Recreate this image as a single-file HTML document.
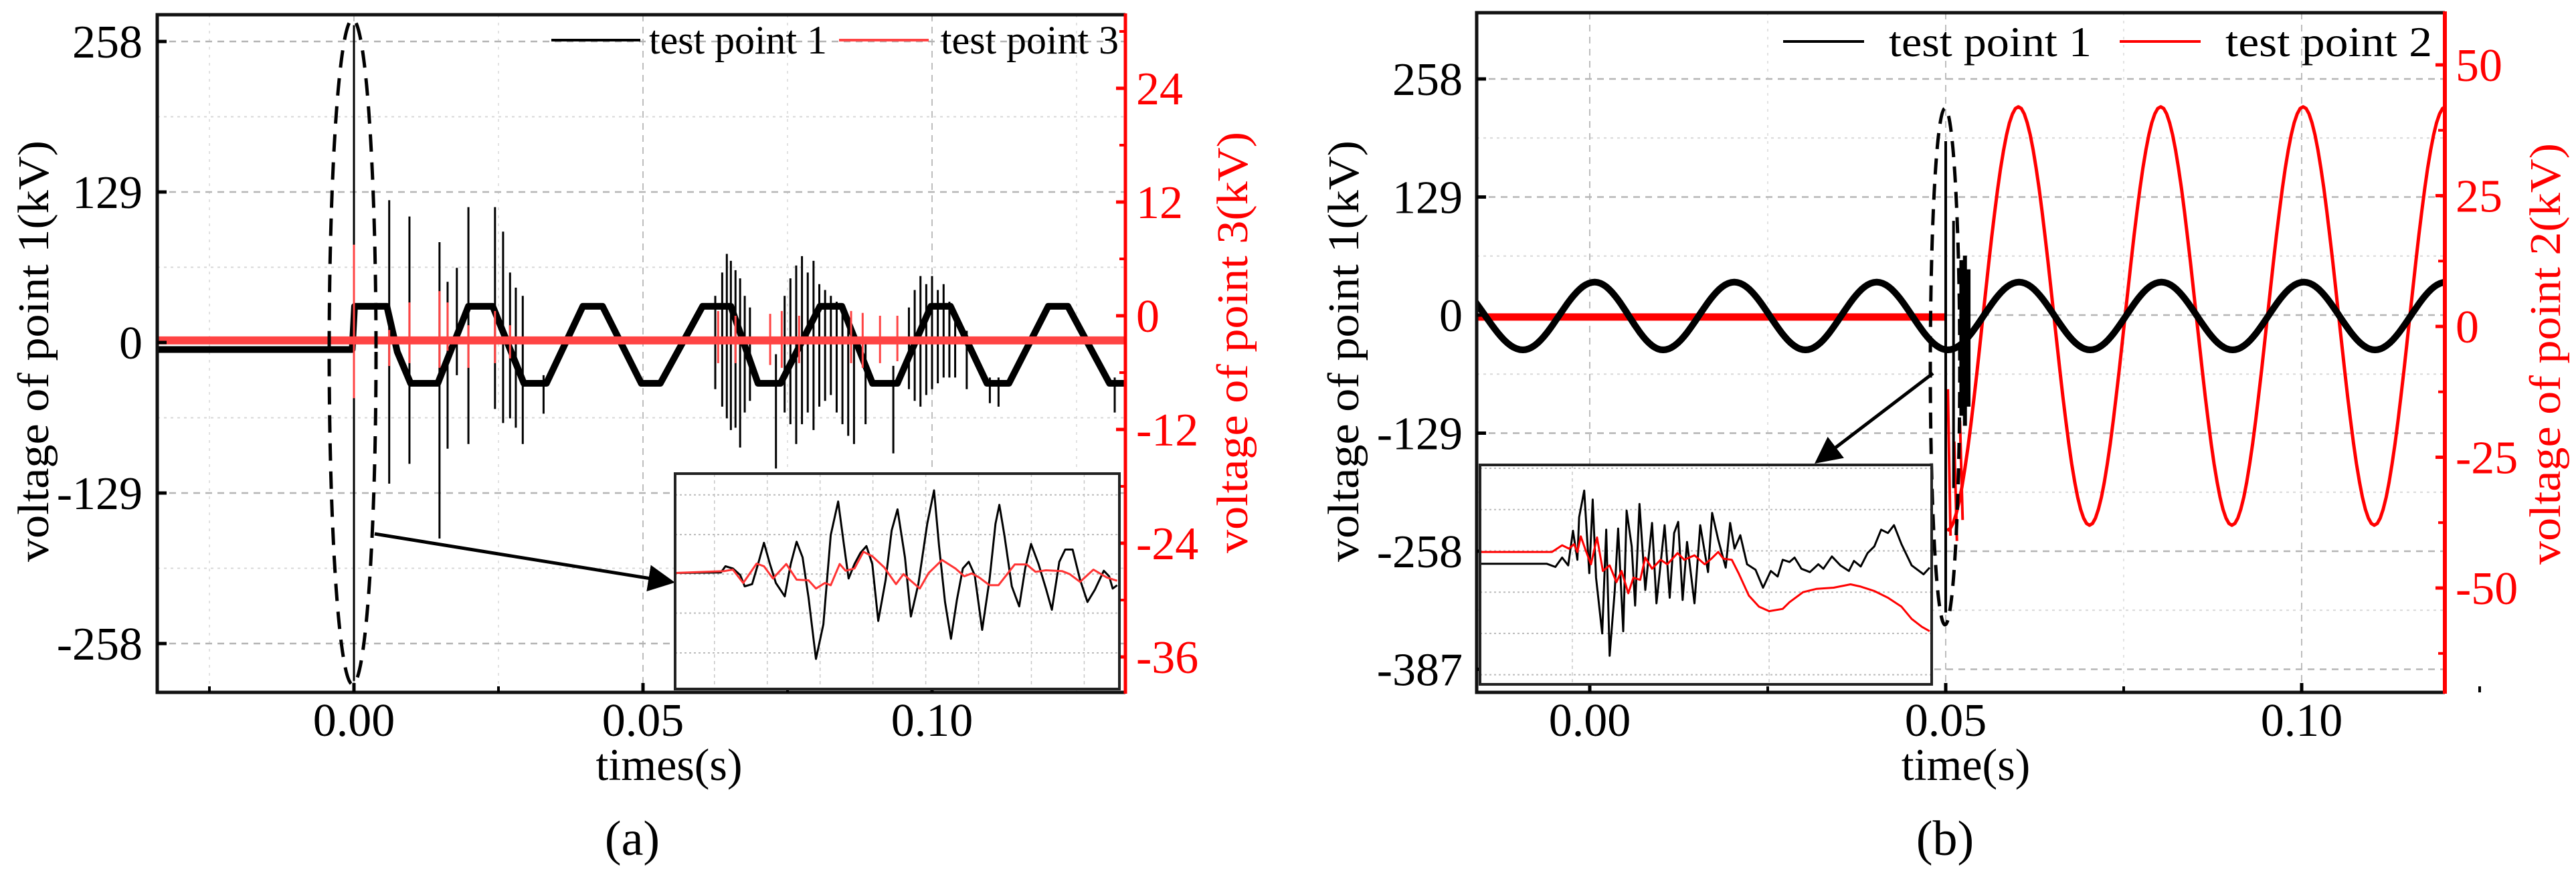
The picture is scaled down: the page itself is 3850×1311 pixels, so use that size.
<!DOCTYPE html>
<html><head><meta charset="utf-8"><title>Voltage waveforms</title>
<style>
html,body{margin:0;padding:0;background:#fff;}
svg, svg text{font-family:"Liberation Serif","DejaVu Serif",serif;}
</style></head>
<body>
<svg id="fig" width="3850" height="1306" viewBox="0 0 3850 1306" xmlns="http://www.w3.org/2000/svg" font-family="Liberation Serif, DejaVu Serif, serif">
<defs>
<clipPath id="clipA"><rect x="235" y="22" width="1447" height="1013"/></clipPath>
<clipPath id="clipB"><rect x="2207" y="19" width="1447" height="1016"/></clipPath>
<clipPath id="clipIA"><rect x="1009" y="708" width="664" height="322"/></clipPath>
<clipPath id="clipIB"><rect x="2212" y="695" width="675" height="328"/></clipPath>
<marker id="arrowHead" markerWidth="8" markerHeight="8" refX="7" refY="4" orient="auto" markerUnits="strokeWidth"><path d="M0,0 L8,4 L0,8 Z" fill="#000"/></marker>
</defs>
<g id="panelA" font-family="Liberation Serif, serif"></g>
<g id="panelB" font-family="Liberation Serif, serif"></g>
</svg>
<script>
// ---------- Panel (a) data ----------
const aXTicks = [0.00, 0.05, 0.10];
const aXTickLabels = ["0.00", "0.05", "0.10"];
const aLeftTicks = [258, 129, 0, -129, -258];
const aRightTicks = [24, 12, 0, -12, -24, -36];
const aBlackT = [-0.0343,-0.0003,0.0001,0.0057,0.0075,0.0098,0.0145,0.0198,0.024,0.0294,0.0333,0.0396,0.043,0.0497,0.053,0.0603,0.0652,0.0699,0.0738,0.0806,0.0844,0.0897,0.094,0.0998,0.1032,0.1095,0.1133,0.1201,0.1235,0.1307,0.1334];
const aBlackV = [-6,-6,31,31,-8,-35,-35,31,31,-35,-35,31,31,-35,-35,31,31,-35,-35,31,31,-35,-35,31,31,-35,-35,31,31,-35,-35];
const aSpikeT  = [0.0,0.0061,0.0096,0.0148,0.0162,0.0178,0.0198,0.0244,0.0258,0.027,0.028,0.0292,0.0328,0.0625,0.0637,0.0645,0.0652,0.0660,0.0668,0.0676,0.0685,0.073,0.0745,0.0755,0.0765,0.0775,0.0785,0.0795,0.0805,0.0815,0.0825,0.0835,0.0845,0.0855,0.0865,0.0885,0.0933,0.096,0.097,0.098,0.099,0.100,0.101,0.102,0.103,0.104,0.106,0.110,0.1115,0.1316];
const aSpikeHi = [272,122,108,86,52,64,116,116,95,60,47,40,-28,40,60,76,70,62,55,40,30,-10,40,55,66,74,60,70,50,45,40,35,30,20,10,0,-20,30,45,57,50,57,45,50,35,25,10,-30,-30,-30];
const aSpikeLo = [-290,-121,-104,-168,-91,-28,-87,-57,-69,-65,-73,-87,-61,-40,-55,-65,-75,-73,-90,-60,-50,-108,-60,-70,-87,-70,-60,-75,-55,-50,-45,-60,-70,-80,-87,-70,-95,-40,-50,-55,-45,-40,-35,-30,-30,-30,-40,-52,-55,-60];
const aRedLevel = -2.6;
const aRedSpikeT  = [0.0,0.0061,0.0096,0.0148,0.0162,0.0198,0.0244,0.027,0.063,0.066,0.072,0.074,0.077,0.086,0.088,0.091,0.094];
const aRedSpikeHi = [7.5,-1.5,1.4,2.6,1.4,-1,0.5,-1,0.5,0,0.2,0.5,0,0.5,0.3,0,0];
const aRedSpikeLo = [-8.7,-5.3,-5,-5.5,-3.7,-5.5,-5,-4.5,-5,-5,-5.2,-5.5,-5,-5,-5.5,-5,-4.8];
const iaBlackT = [0,150,165,190,215,230,255,275,295,315,335,365,385,405,425,445,470,495,520,545,565,580,600,620,640,660,680,705,725,745,770,790,815,845,868,885,905,925,945,965,985,1005,1030,1055,1075,1088,1105,1130,1155,1175,1195,1220,1245,1265,1290,1310,1335,1360,1385,1410,1440,1458,1470,1485];
const iaBlackV = [0,2,30,20,-10,-60,-50,40,135,40,-45,-105,40,140,70,-110,-385,-230,170,320,120,-25,40,90,120,40,-215,-30,190,285,70,-195,-50,220,370,120,-130,-295,-120,20,50,-10,-255,-30,220,305,170,-60,-150,20,130,40,-70,-165,50,105,105,-30,-130,-75,10,-15,-70,-55];
const iaRedT = [0,160,190,225,270,295,325,370,405,445,470,500,520,550,570,600,630,660,700,740,765,790,820,850,895,940,970,995,1020,1055,1085,1140,1180,1210,1245,1300,1325,1360,1405,1450,1485];
const iaRedV = [0,8,15,-45,42,30,-25,40,-30,-33,-70,-45,-55,40,10,20,95,75,25,-50,-5,-35,-70,0,58,20,-15,-2,-20,-55,-55,38,38,5,12,8,-5,-40,15,-20,-35];
// ---------- Panel (b) data ----------
const bXTicks = [0.00, 0.05, 0.10];
const bXTickLabels = ["0.00", "0.05", "0.10"];
const bLeftTicks = [258, 129, 0, -129, -258, -387];
const bRightTicks = [50, 25, 0, -25, -50];
const bBlackT = [-0.02,-0.0094,0.0007,0.0103,0.0203,0.0303,0.0403,0.0503,0.0603,0.0703,0.0803,0.0903,0.1003,0.1103,0.1203,0.1303];
const bBlackV = [37,-38,36,-38,36,-38,36,-38,36,-38,36,-38,36,-38,36,-38];
const bSpikeT  = [0.05,0.0511,0.0522,0.0527,0.0532];
const bSpikeHi = [190,103,60,65,50];
const bSpikeLo = [-325,-189,-110,-121,-100];
const bRedPreT = [-0.0161, 0.0499];
const bRedPreV = [1.8, 1.8];
const bRedT = [0.0502,0.0602,0.0702,0.0802,0.0902,0.1002,0.1102,0.1202];
const bRedV = [-39,42,-38,42,-38,42,-38,42];
const bRedSpikeT  = [0.0503,0.0512,0.052];
const bRedSpikeHi = [-12,-22,-18];
const bRedSpikeLo = [-40,-41,-37];
const ibBlackT = [0,193,218,238,256,270,283,288,303,318,328,338,356,368,378,393,403,418,428,443,453,466,483,503,516,540,555,568,580,593,606,628,645,668,680,698,720,733,746,763,783,808,830,853,873,888,908,923,943,968,993,1008,1033,1058,1083,1098,1118,1138,1158,1178,1198,1216,1238,1268,1303,1321];
const ibBlackV = [2,2,-12,30,-5,150,20,210,330,-40,290,-60,-310,155,-410,-120,160,-300,240,80,-185,270,-115,185,-175,175,-150,140,190,-160,100,-175,175,-35,230,110,-15,185,70,130,0,-25,-105,-30,-55,20,10,30,-20,-35,0,-20,35,-5,-30,15,-10,50,80,155,140,175,90,-5,-45,-15];
const ibRedT = [0,208,238,258,273,283,293,308,323,341,358,378,398,413,433,448,468,483,503,528,548,578,598,628,658,678,698,713,738,758,788,818,848,888,908,948,988,1038,1088,1118,1158,1198,1238,1268,1298,1321];
const ibRedV = [55,55,85,70,90,55,125,60,0,120,-30,-5,-80,-30,-130,-60,-70,30,-20,20,0,50,20,40,0,25,55,25,20,-40,-140,-190,-210,-200,-170,-125,-110,-105,-90,-100,-120,-150,-190,-245,-280,-300];

const NS = 'http://www.w3.org/2000/svg';
function mk(tag, attrs, parent) {
  const el = document.createElementNS(NS, tag);
  for (const k in attrs) el.setAttribute(k, attrs[k]);
  parent.appendChild(el);
  return el;
}
function txt(str, attrs, parent) {
  const el = mk('text', attrs, parent);
  el.textContent = str;
  return el;
}
function linPath(T, V, fx, fy) {
  let d = '';
  for (let i = 0; i < T.length; i++) d += (i ? 'L' : 'M') + fx(T[i]).toFixed(1) + ',' + fy(V[i]).toFixed(1);
  return d;
}
function cosPath(T, V, fx, fy) {
  let d = 'M' + fx(T[0]).toFixed(1) + ',' + fy(V[0]).toFixed(1);
  for (let i = 0; i < T.length - 1; i++) {
    for (let s = 1; s <= 24; s++) {
      const f = s / 24, w = (1 - Math.cos(Math.PI * f)) / 2;
      const t = T[i] + (T[i + 1] - T[i]) * f, v = V[i] + (V[i + 1] - V[i]) * w;
      d += 'L' + fx(t).toFixed(1) + ',' + fy(v).toFixed(1);
    }
  }
  return d;
}

(function () {
  const g = document.getElementById('panelA');
  const L = 235, R = 1682, T = 22, B = 1035;
  const xA = t => 529 + t * 8640;
  const yL = v => 512 - v * (225 / 129);
  const yR = v => 472 - v * (170 / 12);

  const grid = mk('g', {}, g);
  
  
  [-0.025, 0.025, 0.075, 0.125].forEach(t => {
    const ln = mk('line', {x1: xA(t), x2: xA(t), y1: T, y2: B, stroke: '#e2e2e2', 'stroke-width': 2, 'stroke-dasharray': '4 8'}, grid);
    
  });
  aXTicks.forEach(t => {
    const ln = mk('line', {x1: xA(t), x2: xA(t), y1: T, y2: B, stroke: '#bdbdbd', 'stroke-width': 2, 'stroke-dasharray': '10 8'}, grid);
    
  });
  [193.5, 64.5, -64.5, -193.5].forEach(v => {
    const ln = mk('line', {x1: L, x2: R, y1: yL(v), y2: yL(v), stroke: '#d8d8d8', 'stroke-width': 2, 'stroke-dasharray': '4 6'}, grid);
    
  });
  aLeftTicks.forEach(v => {
    const ln = mk('line', {x1: L, x2: R, y1: yL(v), y2: yL(v), stroke: '#b5b5b5', 'stroke-width': 2.5, 'stroke-dasharray': '10 8'}, grid);
    
  });

  const plot = mk('g', {'clip-path': 'url(#clipA)'}, g);
  
  
  const spikes = mk('g', {stroke: '#000', 'stroke-width': 3}, plot);
  
  aSpikeT.forEach((t, i) => {
    const s = mk('line', {x1: xA(t), x2: xA(t), y1: yL(aSpikeHi[i]), y2: yL(aSpikeLo[i])}, spikes);
    
  });
  const black = mk('path', {d: linPath(aBlackT, aBlackV, xA, yL), fill: 'none', stroke: '#000', 'stroke-width': 10, 'stroke-linejoin': 'round'}, plot);
  
  
  const red = mk('line', {x1: L, x2: R, y1: yR(aRedLevel), y2: yR(aRedLevel), stroke: '#f44', 'stroke-width': 12}, plot);
  
  
  const rsp = mk('g', {stroke: '#f44', 'stroke-width': 3}, plot);
  
  aRedSpikeT.forEach((t, i) => {
    const s = mk('line', {x1: xA(t), x2: xA(t), y1: yR(aRedSpikeHi[i]), y2: yR(aRedSpikeLo[i])}, rsp);
    
  });

  const fr = mk('g', {}, g);
  
  mk('path', {d: `M${R},${T} L${L},${T} L${L},${B} L${R},${B}`, fill: 'none', stroke: '#111', 'stroke-width': 5}, fr);
  const rs = mk('line', {x1: R, x2: R, y1: T - 2, y2: B + 2, stroke: '#f00', 'stroke-width': 5}, fr);
  

  const lt = mk('g', {'font-size': 70, 'text-anchor': 'end', fill: '#000'}, g);
  
  aLeftTicks.forEach(v => {
    mk('line', {x1: L, x2: L + 14, y1: yL(v), y2: yL(v), stroke: '#000', 'stroke-width': 5}, lt);
    const t = txt(String(v), {x: 213, y: yL(v) + 24}, lt);
    
  });
  const rt = mk('g', {'font-size': 70, fill: '#f00'}, g);
  
  aRightTicks.forEach(v => {
    mk('line', {x1: R - 14, x2: R, y1: yR(v), y2: yR(v), stroke: '#f00', 'stroke-width': 5}, rt);
    mk('line', {x1: R - 9, x2: R, y1: yR(v + 6), y2: yR(v + 6), stroke: '#f00', 'stroke-width': 4}, rt);
    const t = txt(String(v), {x: 1698, y: yR(v) + 24}, rt);
    
  });
  const xt = mk('g', {'font-size': 70, 'text-anchor': 'middle'}, g);
  
  aXTicks.forEach((v, i) => {
    mk('line', {x1: xA(v), x2: xA(v), y1: B, y2: B - 14, stroke: '#000', 'stroke-width': 5}, xt);
    mk('line', {x1: xA(v - 0.025), x2: xA(v - 0.025), y1: B, y2: B - 9, stroke: '#000', 'stroke-width': 4}, xt);
    const t = txt(aXTickLabels[i], {x: xA(v), y: 1100}, xt);
    
  });

  const xl = txt('times(s)', {x: 1000, y: 1166, 'font-size': 68, 'text-anchor': 'middle'}, g);
  
  const yl = txt('voltage of point 1(kV)', {x: 0, y: 0, 'font-size': 66, 'text-anchor': 'middle', textLength: 630, lengthAdjust: 'spacingAndGlyphs', transform: 'translate(72,525) rotate(-90)'}, g);
  
  const yr = txt('voltage of point 3(kV)', {x: 0, y: 0, 'font-size': 66, 'text-anchor': 'middle', fill: '#f00', textLength: 630, lengthAdjust: 'spacingAndGlyphs', transform: 'translate(1864,512) rotate(-90)'}, g);
  
  const cap = txt('(a)', {x: 945, y: 1278, 'font-size': 74, 'text-anchor': 'middle'}, g);
  

  const lg = mk('g', {'font-size': 60}, g);
  
  const le1 = mk('g', {}, lg);
  
  mk('line', {x1: 824, x2: 957, y1: 60, y2: 60, stroke: '#000', 'stroke-width': 4}, le1);
  txt('test point 1', {x: 970, y: 80, textLength: 266, lengthAdjust: 'spacingAndGlyphs'}, le1);
  const le2 = mk('g', {}, lg);
  
  mk('line', {x1: 1254, x2: 1388, y1: 60, y2: 60, stroke: '#f44', 'stroke-width': 4}, le2);
  txt('test point 3', {x: 1406, y: 80, textLength: 266, lengthAdjust: 'spacingAndGlyphs'}, le2);

  const el = mk('ellipse', {cx: 527, cy: 526, rx: 35, ry: 497, fill: 'none', stroke: '#000', 'stroke-width': 5, 'stroke-dasharray': '26 16'}, g);
  
  const ar = mk('line', {x1: 560, y1: 798, x2: 1004, y2: 870, stroke: '#000', 'stroke-width': 5, 'marker-end': 'url(#arrowHead)'}, g);
  

  const IL = 1009, IR = 1673, IT = 708, IB = 1030;
  const ix = u => IL + 2 + u / 1488 * (IR - IL - 4);
  const iy = v => IT + (445 - v) * (IB - IT) / 965;
  const ins = mk('g', {}, g);
  
  
  mk('rect', {x: IL, y: IT, width: IR - IL, height: IB - IT, fill: '#fff'}, ins);
  for (let k = 1; k <= 8; k++) {
    const u = 20 + k * 178 - 70;
    mk('line', {x1: ix(u), x2: ix(u), y1: IT, y2: IB, stroke: '#c8c8c8', 'stroke-width': 1.5, 'stroke-dasharray': '5 5'}, ins);
  }
  [350, 172, -5, -180, -358].forEach(v => mk('line', {x1: IL, x2: IR, y1: iy(v), y2: iy(v), stroke: '#bbb', 'stroke-width': 2, 'stroke-dasharray': '3 4'}, ins));
  const ic = mk('g', {'clip-path': 'url(#clipIA)'}, ins);
  const ib = mk('path', {d: linPath(iaBlackT, iaBlackV, ix, iy), fill: 'none', stroke: '#000', 'stroke-width': 3, 'stroke-linejoin': 'round'}, ic);
  
  const ir = mk('path', {d: linPath(iaRedT, iaRedV, ix, iy), fill: 'none', stroke: '#f33', 'stroke-width': 3, 'stroke-linejoin': 'round'}, ic);
  
  mk('rect', {x: IL, y: IT, width: IR - IL, height: IB - IT, fill: 'none', stroke: '#222', 'stroke-width': 4}, ins);
})();

(function () {
  const g = document.getElementById('panelB');
  const L = 2207, R = 3654, T = 19, B = 1035;
  const xB = t => 2376 + t * 10640;
  const yL = v => 471 - v * (176.5 / 129);
  const yR = v => 488 - v * (195.5 / 25);

  const grid = mk('g', {}, g);
  
  
  [0.025, 0.075].forEach(t => {
    const ln = mk('line', {x1: xB(t), x2: xB(t), y1: T, y2: B, stroke: '#e2e2e2', 'stroke-width': 2, 'stroke-dasharray': '4 8'}, grid);
    
  });
  bXTicks.forEach(t => {
    const ln = mk('line', {x1: xB(t), x2: xB(t), y1: T, y2: B, stroke: '#bdbdbd', 'stroke-width': 2, 'stroke-dasharray': '10 8'}, grid);
    
  });
  [193.5, 64.5, -64.5, -193.5, -322.5].forEach(v => {
    const ln = mk('line', {x1: L, x2: R, y1: yL(v), y2: yL(v), stroke: '#d8d8d8', 'stroke-width': 2, 'stroke-dasharray': '4 6'}, grid);
    
  });
  bLeftTicks.forEach(v => {
    const ln = mk('line', {x1: L, x2: R, y1: yL(v), y2: yL(v), stroke: '#b5b5b5', 'stroke-width': 2.5, 'stroke-dasharray': '10 8'}, grid);
    
  });

  const plot = mk('g', {'clip-path': 'url(#clipB)'}, g);
  
  
  const redPre = mk('path', {d: linPath(bRedPreT, bRedPreV, xB, yR), fill: 'none', stroke: '#f00', 'stroke-width': 11}, plot);
  
  const red = mk('path', {d: cosPath(bRedT, bRedV, xB, yR), fill: 'none', stroke: '#f00', 'stroke-width': 5, 'stroke-linejoin': 'round'}, plot);
  
  
  bRedSpikeT.forEach((t, i) => {
    const s = mk('line', {x1: xB(t), x2: xB(t) + 4, y1: yR(bRedSpikeHi[i]), y2: yR(bRedSpikeLo[i]), stroke: '#f00', 'stroke-width': 4}, plot);
    
  });
  const black = mk('path', {d: cosPath(bBlackT, bBlackV, xB, yL), fill: 'none', stroke: '#000', 'stroke-width': 10, 'stroke-linejoin': 'round'}, plot);
  
  
  bSpikeT.forEach((t, i) => {
    const s = mk('line', {x1: xB(t), x2: xB(t), y1: yL(bSpikeHi[i]), y2: yL(bSpikeLo[i]), stroke: '#000', 'stroke-width': i > 1 ? 6 : 4}, plot);
    
  });

  const fr = mk('g', {}, g);
  
  mk('path', {d: `M${R},${T} L${L},${T} L${L},${B} L${R},${B}`, fill: 'none', stroke: '#111', 'stroke-width': 5}, fr);
  const rs = mk('line', {x1: R, x2: R, y1: T - 2, y2: B + 2, stroke: '#f00', 'stroke-width': 6}, fr);
  

  const lt = mk('g', {'font-size': 70, 'text-anchor': 'end'}, g);
  
  bLeftTicks.forEach(v => {
    mk('line', {x1: L, x2: L + 14, y1: yL(v), y2: yL(v), stroke: '#000', 'stroke-width': 5}, lt);
    const t = txt(String(v), {x: 2186, y: yL(v) + 24}, lt);
    
  });
  const rt = mk('g', {'font-size': 70, fill: '#f00'}, g);
  
  bRightTicks.forEach(v => {
    mk('line', {x1: R - 14, x2: R, y1: yR(v), y2: yR(v), stroke: '#f00', 'stroke-width': 5}, rt);
    mk('line', {x1: R - 10, x2: R, y1: yR(v - 12.5), y2: yR(v - 12.5), stroke: '#f00', 'stroke-width': 4}, rt);
    const t = txt(String(v), {x: 3670, y: yR(v) + 24}, rt);
    
  });
  const xt = mk('g', {'font-size': 70, 'text-anchor': 'middle'}, g);
  
  bXTicks.forEach((v, i) => {
    mk('line', {x1: xB(v), x2: xB(v), y1: B, y2: B - 14, stroke: '#000', 'stroke-width': 5}, xt);
    mk('line', {x1: xB(v + 0.025), x2: xB(v + 0.025), y1: B, y2: B - 9, stroke: '#000', 'stroke-width': 4}, xt);
    const t = txt(bXTickLabels[i], {x: xB(v), y: 1100}, xt);
    
  });

  const xl = txt('time(s)', {x: 2938, y: 1166, 'font-size': 68, 'text-anchor': 'middle'}, g);
  
  const yl = txt('voltage of point 1(kV)', {x: 0, y: 0, 'font-size': 66, 'text-anchor': 'middle', textLength: 630, lengthAdjust: 'spacingAndGlyphs', transform: 'translate(2030,525) rotate(-90)'}, g);
  
  const yr = txt('voltage of point 2(kV)', {x: 0, y: 0, 'font-size': 66, 'text-anchor': 'middle', fill: '#f00', textLength: 630, lengthAdjust: 'spacingAndGlyphs', transform: 'translate(3826,529) rotate(-90)'}, g);
  
  const cap = txt('(b)', {x: 2907, y: 1278, 'font-size': 74, 'text-anchor': 'middle'}, g);
  

  const lg = mk('g', {'font-size': 64}, g);
  
  const le1 = mk('g', {}, lg);
  
  mk('line', {x1: 2665, x2: 2786, y1: 62, y2: 62, stroke: '#000', 'stroke-width': 4}, le1);
  txt('test point 1', {x: 2823, y: 84, textLength: 303, lengthAdjust: 'spacingAndGlyphs'}, le1);
  const le2 = mk('g', {}, lg);
  
  mk('line', {x1: 3168, x2: 3289, y1: 62, y2: 62, stroke: '#f00', 'stroke-width': 4}, le2);
  txt('test point 2', {x: 3326, y: 84, textLength: 309, lengthAdjust: 'spacingAndGlyphs'}, le2);

  const el = mk('ellipse', {cx: 2907, cy: 548, rx: 22, ry: 386, fill: 'none', stroke: '#000', 'stroke-width': 5, 'stroke-dasharray': '24 14'}, g);
  
  const ar = mk('line', {x1: 2889, y1: 558, x2: 2716, y2: 690, stroke: '#000', 'stroke-width': 5, 'marker-end': 'url(#arrowHead)'}, g);
  

  const IL = 2212, IR = 2887, IT = 695, IB = 1023;
  const ix = u => IL + 2 + u / 1323 * (IR - IL - 4);
  const iy = v => IT + (445 - v) * (IB - IT) / 983;
  const ins = mk('g', {}, g);
  
  
  mk('rect', {x: IL, y: IT, width: IR - IL, height: IB - IT, fill: '#fff'}, ins);
  [268, 848].forEach(u => mk('line', {x1: ix(u), x2: ix(u), y1: IT, y2: IB, stroke: '#c8c8c8', 'stroke-width': 1.5, 'stroke-dasharray': '5 5'}, ins));
  [430, 245, 60, -125, -310, -495].forEach(v => mk('line', {x1: IL, x2: IR, y1: iy(v), y2: iy(v), stroke: '#bbb', 'stroke-width': 2, 'stroke-dasharray': '3 4'}, ins));
  const ic = mk('g', {'clip-path': 'url(#clipIB)'}, ins);
  const ib2 = mk('path', {d: linPath(ibBlackT, ibBlackV, ix, iy), fill: 'none', stroke: '#000', 'stroke-width': 3, 'stroke-linejoin': 'round'}, ic);
  
  const ir2 = mk('path', {d: linPath(ibRedT, ibRedV, ix, iy), fill: 'none', stroke: '#f00', 'stroke-width': 3, 'stroke-linejoin': 'round'}, ic);
  
  mk('rect', {x: IL, y: IT, width: IR - IL, height: IB - IT, fill: 'none', stroke: '#222', 'stroke-width': 4}, ins);
})();
</script>
</body></html>
